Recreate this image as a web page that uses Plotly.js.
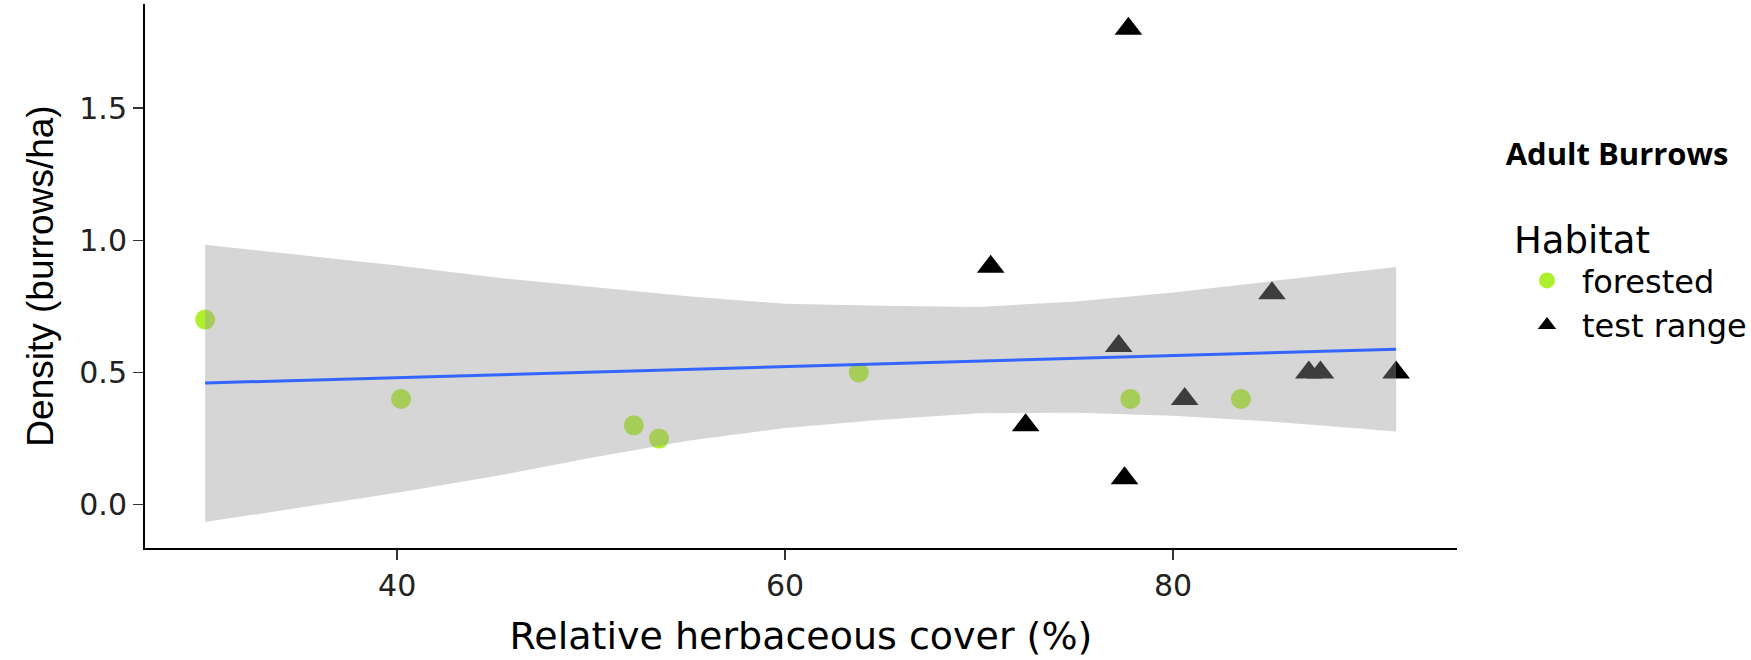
<!DOCTYPE html>
<html>
<head>
<meta charset="utf-8">
<script src="https://cdn.plot.ly/plotly-3.0.1.min.js"></script>
<style>
  html, body { margin: 0; padding: 0; background: #ffffff; }
  #chart { width: 1751px; height: 660px; }
</style>
</head>
<body>
<div id="chart"></div>
<script>
// Burrow density against relative herbaceous cover, by habitat
const forestedCover   = [30.1, 40.2, 52.2, 53.5, 63.8, 77.8, 83.5];
const forestedDensity = [0.70, 0.40, 0.30, 0.25, 0.50, 0.40, 0.40];

const rangeCover   = [77.7, 70.6, 85.1, 77.2, 87.0, 87.6, 91.5, 80.6, 72.4, 77.5];
const rangeDensity = [1.80, 0.90, 0.80, 0.60, 0.50, 0.50, 0.50, 0.40, 0.30, 0.10];

// Linear fit and its 95% confidence band
const fitCover   = [30.1, 91.5];
const fitDensity = [0.460, 0.588];

const bandCover = [30.1, 35, 40, 45, 50, 55, 60, 65, 70, 75, 80, 85, 91.5];
const bandUpper = [0.983, 0.945, 0.905, 0.860, 0.825, 0.788, 0.760, 0.752, 0.748, 0.769, 0.803, 0.844, 0.899];
const bandLower = [-0.066, -0.011, 0.045, 0.107, 0.177, 0.242, 0.290, 0.321, 0.346, 0.348, 0.336, 0.315, 0.277];

const xTicks = [40, 60, 80];
const yTicks = [0, 0.5, 1.0, 1.5];
const yTickText = ['0.0', '0.5', '1.0', '1.5'];

const habitatNames = ['forested', 'test range'];

const traces = [
  {
    type: 'scatter', mode: 'markers', name: habitatNames[0],
    x: forestedCover, y: forestedDensity,
    marker: { symbol: 'circle', size: 20, color: '#aef02e', line: { width: 0 } }
  },
  {
    type: 'scatter', mode: 'markers', name: habitatNames[1],
    x: rangeCover, y: rangeDensity,
    marker: { symbol: 'triangle-up', size: 24, color: '#000000', line: { width: 0 } }
  },
  // confidence band, drawn over the points
  {
    type: 'scatter', mode: 'lines', showlegend: false, hoverinfo: 'skip',
    x: bandCover, y: bandLower,
    line: { width: 0, color: 'rgba(0,0,0,0)' }
  },
  {
    type: 'scatter', mode: 'lines', showlegend: false, hoverinfo: 'skip',
    x: bandCover, y: bandUpper,
    fill: 'tonexty', fillcolor: 'rgba(153,153,153,0.4)',
    line: { width: 0, color: 'rgba(0,0,0,0)' }
  },
  {
    type: 'scatter', mode: 'lines', showlegend: false, hoverinfo: 'skip',
    x: fitCover, y: fitDensity,
    line: { width: 3, color: '#3366ff' }
  }
];

const layout = {
  width: 1751, height: 660,
  margin: { l: 145, r: 294, t: 4, b: 112 },
  paper_bgcolor: '#ffffff', plot_bgcolor: '#ffffff',
  font: { family: 'DejaVu Sans, Arial, sans-serif', color: '#000000' },
  title: {
    text: '<b>Adult Burrows</b>',
    font: { family: 'Open Sans, Lato, sans-serif', size: 31, color: '#000000' },
    xref: 'container', yref: 'container',
    x: 0.9235, xanchor: 'center',
    y: 1 - 154 / 660, yanchor: 'middle'
  },
  xaxis: {
    range: [27.0, 94.64],
    tickmode: 'array', tickvals: xTicks,
    ticks: 'outside', ticklen: 10, tickwidth: 1.6, tickcolor: '#333333',
    showline: true, linecolor: '#000000', linewidth: 2,
    showgrid: false, zeroline: false,
    tickfont: { family: 'DejaVu Sans, sans-serif', size: 30, color: '#222222' },
    title: {
      text: 'Relative herbaceous cover (%)',
      font: { family: 'DejaVu Sans, sans-serif', size: 38, color: '#000000' },
      standoff: 20
    }
  },
  yaxis: {
    range: [-0.164, 1.894],
    tickmode: 'array', tickvals: yTicks, ticktext: yTickText,
    ticks: 'outside', ticklen: 10, tickwidth: 1.6, tickcolor: '#333333',
    showline: true, linecolor: '#000000', linewidth: 2,
    showgrid: false, zeroline: false,
    tickfont: { family: 'DejaVu Sans, sans-serif', size: 30, color: '#222222' },
    title: {
      text: 'Density (burrows/ha)',
      font: { family: 'Liberation Sans, Arial, sans-serif', size: 37, color: '#000000' },
      standoff: 14
    }
  },
  showlegend: true,
  legend: {
    xref: 'container', yref: 'container',
    x: 1512 / 1751, xanchor: 'left',
    y: 1 - 205 / 660, yanchor: 'top',
    traceorder: 'normal',
    bgcolor: 'rgba(0,0,0,0)',
    itemwidth: 60,
    font: { family: 'DejaVu Sans, sans-serif', size: 32, color: '#000000' },
    title: { text: 'Habitat', font: { family: 'DejaVu Sans, sans-serif', size: 37, color: '#000000' } }
  }
};

Plotly.newPlot('chart', traces, layout, { displayModeBar: false, staticPlot: true });
</script>
</body>
</html>
